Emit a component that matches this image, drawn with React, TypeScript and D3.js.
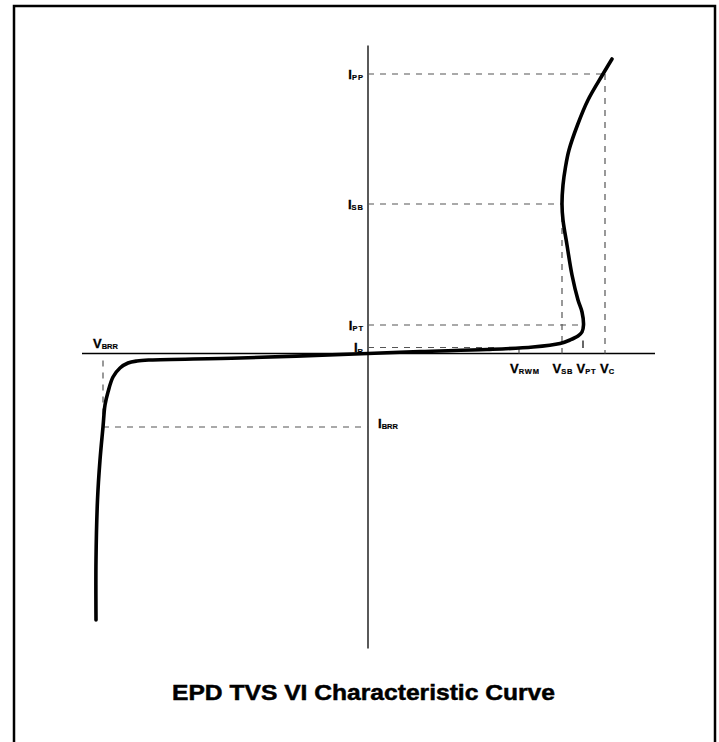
import React from "react";
import * as d3 from "d3";

// Curve samples (arbitrary units, origin at axes crossing)
const curveV = [-272, -272, -270.5, -268, -265, -263, -260, -255, -248, -240, -231, -218, -128, 0, 52, 119, 165, 192, 202, 210, 214, 215.5, 214, 210, 204, 199, 195, 194, 195, 197.5, 201, 209.5, 220, 235, 244];
const curveI = [-266.5, -206.5, -146.5, -106.5, -73.5, -51.5, -38.5, -23.5, -14.5, -9.5, -7.5, -6.5, -4.5, 0, 2, 4, 6.5, 10, 13.5, 17.5, 21.5, 28.5, 41.5, 53.5, 78.5, 108.5, 133.5, 149.5, 168.5, 186.5, 203.5, 228.5, 253.5, 279.5, 294.5];

// Current reference levels: name, subscript, level, voltage where dashed line stops
const iNames = ["I", "I", "I", "I"];
const iSubs = ["PP", "SB", "PT", "R"];
const iLevels = [279.5, 149.5, 28.5, 6];
const iEnds = [237, 194, 212, 127];

// Voltage reference levels
const vSubs = ["RWM", "SB", "PT", "C"];
const vLevels = [151, 194, 215, 237];

const V_BRR = -265;
const I_BRR = -73.5;
const V_C = 237;
const I_PP = 279.5;
const V_SB = 194;
const I_SB = 149.5;
const V_PT = 215;
const V_RWM = 151;

const title = "EPD TVS VI Characteristic Curve";

export default function App() {
  const W = 719, H = 742;
  const x = d3.scaleLinear().domain([-286, 287]).range([82, 655]);
  const y = d3.scaleLinear().domain([-295, 308]).range([648.5, 45.5]);
  const pts: [number, number][] = curveV.map((v, i) => [v, curveI[i]]);
  const line = d3.line<[number, number]>().x(d => x(d[0])).y(d => y(d[1])).curve(d3.curveCatmullRom.alpha(0.5));
  const dash = { stroke: "#555", strokeWidth: 1.2, strokeDasharray: "6,6", fill: "none" };
  const labelFont = "'Liberation Sans', Arial, sans-serif";
  const vOffsets = [-9, -9.5, -6.5, -5];
  return (
    <svg width={W} height={H} style={{ position: "absolute", left: 0, top: 0, background: "#fff" }}>
      <rect x={14} y={6} width={701} height={780} fill="none" stroke="#000" strokeWidth={2.5} />
      {/* axes */}
      <line x1={x(-286)} x2={x(287)} y1={y(0)} y2={y(0)} stroke="#000" strokeWidth={1.3} />
      <line x1={x(0)} x2={x(0)} y1={y(-295)} y2={y(308)} stroke="#000" strokeWidth={1.3} />
      {/* dashed current lines */}
      {iLevels.map((lv, k) => (
        <line key={"ih" + k} x1={x(0)} x2={x(iEnds[k])} y1={y(lv)} y2={y(lv)} {...dash} />
      ))}
      <line x1={x(V_C)} x2={x(V_C)} y1={y(I_PP)} y2={y(0)} {...dash} />
      <line x1={x(V_SB)} x2={x(V_SB)} y1={y(I_SB)} y2={y(0)} {...dash} />
      <line x1={x(V_BRR)} x2={x(V_BRR)} y1={y(-7)} y2={y(I_BRR)} {...dash} />
      <line x1={x(V_BRR)} x2={x(0)} y1={y(I_BRR)} y2={y(I_BRR)} {...dash} />
      {/* ticks */}
      <line x1={x(V_PT)} x2={x(V_PT)} y1={y(13)} y2={y(5.5)} stroke="#000" strokeWidth={1.2} />
      <line x1={x(V_RWM)} x2={x(V_RWM)} y1={y(4.5)} y2={y(0)} stroke="#555" strokeWidth={1.2} />
      {/* curve */}
      <path d={line(pts) || ""} fill="none" stroke="#000" strokeWidth={3.6} strokeLinecap="round" />
      {/* I labels */}
      {iLevels.map((lv, k) => (
        <text key={"il" + k} x={x(0) - 4} y={y(lv) + 4.5} textAnchor="end" fontFamily={labelFont} fontWeight="900" fontSize={13} stroke="#000" strokeWidth={0.3}>
          {iNames[k]}
          <tspan fontSize={7.5} dy={1.5} letterSpacing={1} strokeWidth={0.2}>{iSubs[k]}</tspan>
        </text>
      ))}
      {/* V labels */}
      {vLevels.map((lv, k) => (
        <text key={"vl" + k} x={x(lv) + vOffsets[k]} y={y(0) + 19.5} fontFamily={labelFont} fontWeight="900" fontSize={13} stroke="#000" strokeWidth={0.3}>
          V
          <tspan fontSize={7.5} dy={1} letterSpacing={0.8} strokeWidth={0.2}>{vSubs[k]}</tspan>
        </text>
      ))}
      <text x={x(V_BRR) - 10} y={y(0) - 6} fontFamily={labelFont} fontWeight="900" fontSize={13} stroke="#000" strokeWidth={0.3}>
        V<tspan fontSize={7.5} dy={1} strokeWidth={0.2}>BRR</tspan>
      </text>
      <text x={x(0) + 10} y={y(I_BRR) + 1} fontFamily={labelFont} fontWeight="900" fontSize={13} stroke="#000" strokeWidth={0.3}>
        I<tspan fontSize={7.5} dy={1} strokeWidth={0.2}>BRR</tspan>
      </text>
      <text x={363.5} y={700} textAnchor="middle" fontFamily={labelFont} fontWeight="900" fontSize={22.5} stroke="#000" strokeWidth={0.5} textLength={383} lengthAdjust="spacingAndGlyphs">
        {title}
      </text>
    </svg>
  );
}
